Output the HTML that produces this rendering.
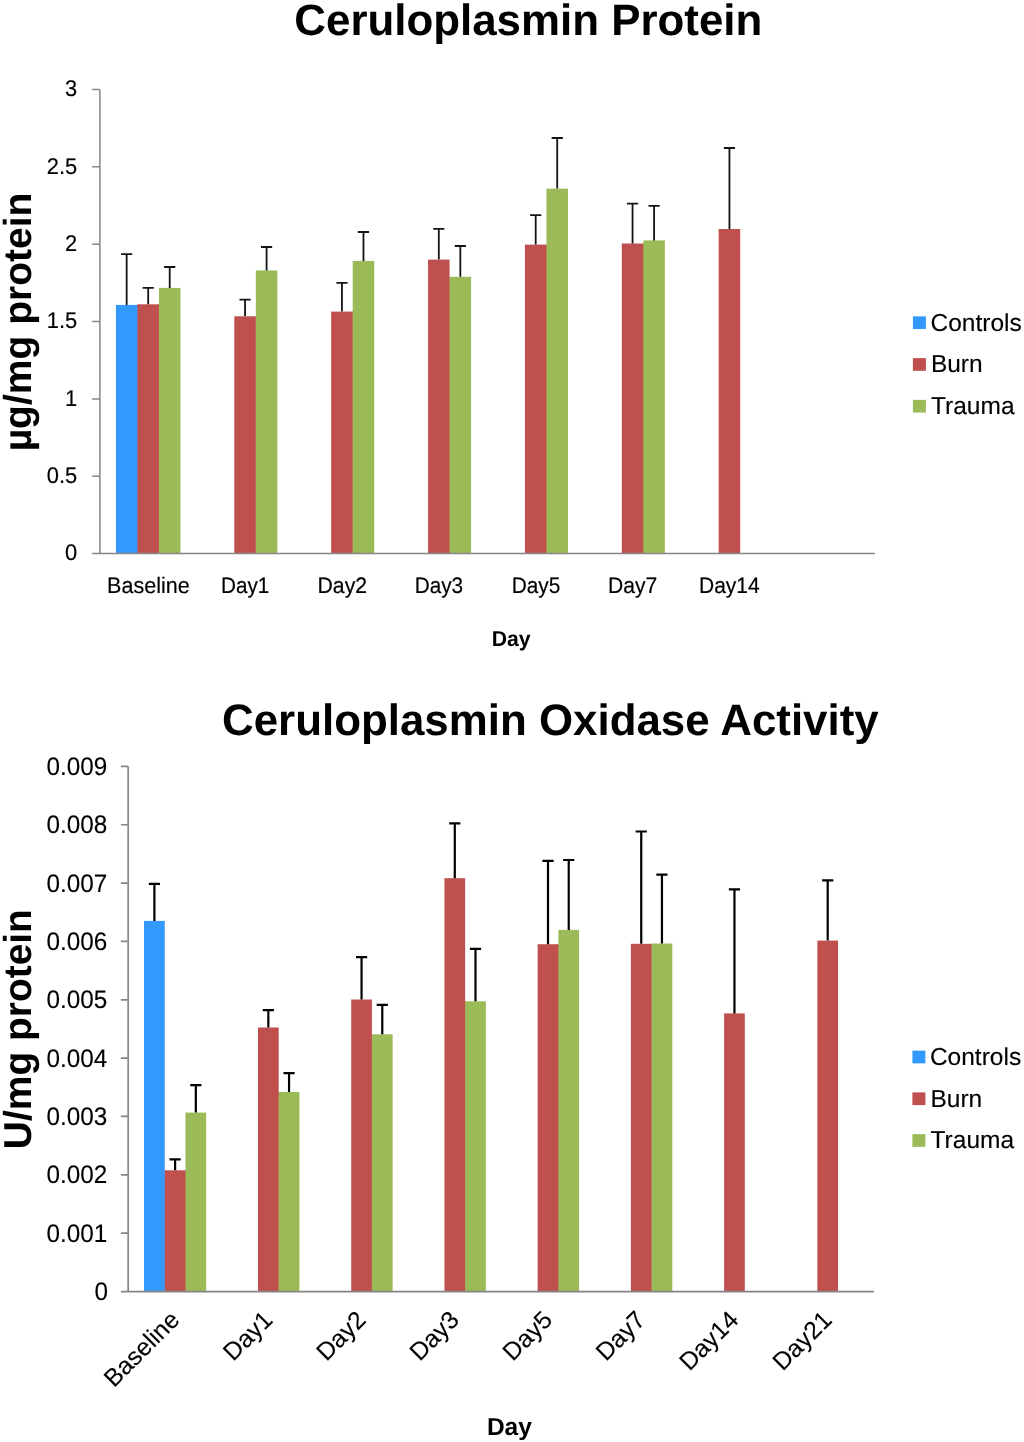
<!DOCTYPE html><html><head><meta charset="utf-8"><title>Ceruloplasmin</title><style>html,body{margin:0;padding:0;background:#fff;width:1024px;height:1442px;overflow:hidden}svg{display:block;will-change:transform}text{font-family:"Liberation Sans",sans-serif;fill:#000;text-rendering:geometricPrecision}</style></head><body>
<svg width="1024" height="1442" viewBox="0 0 1024 1442">
<rect width="1024" height="1442" fill="#fff"/>
<rect x="115.9" y="304.9" width="21.53" height="248.7" fill="#3399ff"/>
<rect x="136.92" y="304.9" width="1" height="248.7" fill="#3399ff"/>
<rect x="137.42" y="304.3" width="21.53" height="249.3" fill="#c0504d"/>
<rect x="158.45" y="304.3" width="1" height="249.3" fill="#c0504d"/>
<rect x="158.95" y="287.9" width="21.53" height="265.7" fill="#9bbb59"/>
<rect x="234.3" y="316.3" width="21.53" height="237.3" fill="#c0504d"/>
<rect x="255.33" y="316.3" width="1" height="237.3" fill="#c0504d"/>
<rect x="255.83" y="270.4" width="21.53" height="283.2" fill="#9bbb59"/>
<rect x="331.17" y="311.6" width="21.53" height="242" fill="#c0504d"/>
<rect x="352.2" y="311.6" width="1" height="242" fill="#c0504d"/>
<rect x="352.7" y="260.9" width="21.53" height="292.7" fill="#9bbb59"/>
<rect x="428.05" y="259.6" width="21.53" height="294" fill="#c0504d"/>
<rect x="449.08" y="276.8" width="1" height="276.8" fill="#c0504d"/>
<rect x="449.58" y="276.8" width="21.53" height="276.8" fill="#9bbb59"/>
<rect x="524.92" y="244.6" width="21.53" height="309" fill="#c0504d"/>
<rect x="545.95" y="244.6" width="1" height="309" fill="#c0504d"/>
<rect x="546.45" y="188.6" width="21.53" height="365" fill="#9bbb59"/>
<rect x="621.8" y="243.5" width="21.53" height="310.1" fill="#c0504d"/>
<rect x="642.83" y="243.5" width="1" height="310.1" fill="#c0504d"/>
<rect x="643.33" y="240.4" width="21.53" height="313.2" fill="#9bbb59"/>
<rect x="718.67" y="229" width="21.53" height="324.6" fill="#c0504d"/>
<path d="M126.66 304.9V254.2M121.06 254.2H132.26M148.19 304.3V287.9M142.59 287.9H153.79M169.72 287.9V267M164.12 267H175.32M245.06 316.3V299.7M239.46 299.7H250.66M266.59 270.4V247M260.99 247H272.19M341.94 311.6V282.9M336.34 282.9H347.54M363.47 260.9V232M357.87 232H369.07M438.81 259.6V228.8M433.21 228.8H444.41M460.34 276.8V246M454.74 246H465.94M535.69 244.6V215.1M530.09 215.1H541.29M557.22 188.6V138M551.62 138H562.82M632.56 243.5V203.6M626.96 203.6H638.16M654.09 240.4V205.8M648.49 205.8H659.69M729.44 229V148M723.84 148H735.04" stroke="#141414" stroke-width="1.8" fill="none"/>
<path d="M99.9 89.5V553.6M92.1 553.6H874.9M92.1 476.25H99.9M92.1 398.9H99.9M92.1 321.55H99.9M92.1 244.2H99.9M92.1 166.85H99.9M92.1 89.5H99.9" stroke="#868686" stroke-width="1.5" fill="none"/>
<rect x="144.04" y="920.9" width="20.72" height="370.6" fill="#3399ff"/>
<rect x="164.25" y="1170.3" width="1" height="121.2" fill="#3399ff"/>
<rect x="164.75" y="1170.3" width="20.72" height="121.2" fill="#c0504d"/>
<rect x="184.97" y="1170.3" width="1" height="121.2" fill="#c0504d"/>
<rect x="185.47" y="1112.6" width="20.72" height="178.9" fill="#9bbb59"/>
<rect x="257.98" y="1027.5" width="20.72" height="264" fill="#c0504d"/>
<rect x="278.2" y="1092" width="1" height="199.5" fill="#c0504d"/>
<rect x="278.7" y="1092" width="20.72" height="199.5" fill="#9bbb59"/>
<rect x="351.2" y="999.5" width="20.72" height="292" fill="#c0504d"/>
<rect x="371.42" y="1034.3" width="1" height="257.2" fill="#c0504d"/>
<rect x="371.92" y="1034.3" width="20.72" height="257.2" fill="#9bbb59"/>
<rect x="444.43" y="878.2" width="20.72" height="413.3" fill="#c0504d"/>
<rect x="464.65" y="1001.3" width="1" height="290.2" fill="#c0504d"/>
<rect x="465.15" y="1001.3" width="20.72" height="290.2" fill="#9bbb59"/>
<rect x="537.65" y="944.2" width="20.72" height="347.3" fill="#c0504d"/>
<rect x="557.87" y="944.2" width="1" height="347.3" fill="#c0504d"/>
<rect x="558.37" y="929.9" width="20.72" height="361.6" fill="#9bbb59"/>
<rect x="630.88" y="943.8" width="20.72" height="347.7" fill="#c0504d"/>
<rect x="651.1" y="943.8" width="1" height="347.7" fill="#c0504d"/>
<rect x="651.6" y="943.5" width="20.72" height="348" fill="#9bbb59"/>
<rect x="724.1" y="1013.4" width="20.72" height="278.1" fill="#c0504d"/>
<rect x="817.33" y="940.6" width="20.72" height="350.9" fill="#c0504d"/>
<path d="M154.4 920.9V883.9M148.8 883.9H160M175.11 1170.3V1159.3M169.51 1159.3H180.71M195.83 1112.6V1085.2M190.23 1085.2H201.43M268.34 1027.5V1010.2M262.74 1010.2H273.94M289.05 1092V1073.1M283.45 1073.1H294.65M361.56 999.5V957.1M355.96 957.1H367.16M382.28 1034.3V1004.8M376.68 1004.8H387.88M454.79 878.2V823.4M449.19 823.4H460.39M475.5 1001.3V948.9M469.9 948.9H481.1M548.01 944.2V860.8M542.41 860.8H553.61M568.73 929.9V860M563.13 860H574.33M641.24 943.8V831.5M635.64 831.5H646.84M661.95 943.5V874.7M656.35 874.7H667.55M734.46 1013.4V889.4M728.86 889.4H740.06M827.69 940.6V880.4M822.09 880.4H833.29" stroke="#000" stroke-width="2.2" fill="none"/>
<path d="M128.2 766.4V1291.7M120.9 1291.7H873.9M120.9 1233.16H128.2M120.9 1174.81H128.2M120.9 1116.47H128.2M120.9 1058.12H128.2M120.9 999.78H128.2M120.9 941.43H128.2M120.9 883.09H128.2M120.9 824.74H128.2M120.9 766.4H128.2" stroke="#868686" stroke-width="1.7" fill="none"/>
<rect x="912.9" y="316.35" width="13" height="12.7" fill="#3399ff"/>
<rect x="912.4" y="1050.65" width="13" height="12.7" fill="#3399ff"/>
<rect x="912.9" y="358.1" width="13" height="12.7" fill="#c0504d"/>
<rect x="912.4" y="1092.4" width="13" height="12.7" fill="#c0504d"/>
<rect x="912.9" y="399.85" width="13" height="12.7" fill="#9bbb59"/>
<rect x="912.4" y="1134.15" width="13" height="12.7" fill="#9bbb59"/>
<text transform="translate(528.3 35.3)" font-size="43.86" font-weight="bold" text-anchor="middle">Ceruloplasmin Protein</text>
<text transform="translate(550.35 734.7)" font-size="43.88" font-weight="bold" text-anchor="middle">Ceruloplasmin Oxidase Activity</text>
<text transform="translate(30.9 321.95) rotate(-90)" font-size="39.04" font-weight="bold" text-anchor="middle">µg/mg protein</text>
<text transform="translate(30.85 1029.15) rotate(-90)" font-size="38.93" font-weight="bold" text-anchor="middle">U/mg protein</text>
<text transform="translate(77.2 560.4) scale(0.966 1)" font-size="22.65" stroke="#000" stroke-width="0.18" text-anchor="end">0</text>
<text transform="translate(77.2 483.05) scale(0.966 1)" font-size="22.65" stroke="#000" stroke-width="0.18" text-anchor="end">0.5</text>
<text transform="translate(77.2 405.7) scale(0.966 1)" font-size="22.65" stroke="#000" stroke-width="0.18" text-anchor="end">1</text>
<text transform="translate(77.2 328.35) scale(0.966 1)" font-size="22.65" stroke="#000" stroke-width="0.18" text-anchor="end">1.5</text>
<text transform="translate(77.2 251) scale(0.966 1)" font-size="22.65" stroke="#000" stroke-width="0.18" text-anchor="end">2</text>
<text transform="translate(77.2 173.65) scale(0.966 1)" font-size="22.65" stroke="#000" stroke-width="0.18" text-anchor="end">2.5</text>
<text transform="translate(77.2 96.3) scale(0.966 1)" font-size="22.65" stroke="#000" stroke-width="0.18" text-anchor="end">3</text>
<text transform="translate(148.4 592.65) scale(1 1.03)" font-size="21.8" stroke="#000" stroke-width="0.18" text-anchor="middle" textLength="82.57" lengthAdjust="spacingAndGlyphs">Baseline</text>
<text transform="translate(245.1 592.65) scale(1 1.03)" font-size="21.8" stroke="#000" stroke-width="0.18" text-anchor="middle" textLength="48.22" lengthAdjust="spacingAndGlyphs">Day1</text>
<text transform="translate(342.3 592.65) scale(1 1.03)" font-size="21.8" stroke="#000" stroke-width="0.18" text-anchor="middle" textLength="49.57" lengthAdjust="spacingAndGlyphs">Day2</text>
<text transform="translate(438.9 592.65) scale(1 1.03)" font-size="21.8" stroke="#000" stroke-width="0.18" text-anchor="middle" textLength="48.42" lengthAdjust="spacingAndGlyphs">Day3</text>
<text transform="translate(536 592.65) scale(1 1.03)" font-size="21.8" stroke="#000" stroke-width="0.18" text-anchor="middle" textLength="48.6" lengthAdjust="spacingAndGlyphs">Day5</text>
<text transform="translate(632.7 592.65) scale(1 1.03)" font-size="21.8" stroke="#000" stroke-width="0.18" text-anchor="middle" textLength="49.28" lengthAdjust="spacingAndGlyphs">Day7</text>
<text transform="translate(729.3 592.65) scale(1 1.03)" font-size="21.8" stroke="#000" stroke-width="0.18" text-anchor="middle" textLength="60.65" lengthAdjust="spacingAndGlyphs">Day14</text>
<text transform="translate(511.2 646.05)" font-size="21.51" font-weight="bold" text-anchor="middle" textLength="38.9" lengthAdjust="spacingAndGlyphs">Day</text>
<text transform="translate(930.55 330.55)" font-size="24.5" stroke="#000" stroke-width="0.12">Controls</text>
<text transform="translate(930.9 372.3)" font-size="24.5" stroke="#000" stroke-width="0.12">Burn</text>
<text transform="translate(931 414.05)" font-size="24.5" stroke="#000" stroke-width="0.12">Trauma</text>
<text transform="translate(929.9 1064.85)" font-size="24.5" stroke="#000" stroke-width="0.12">Controls</text>
<text transform="translate(930.45 1106.6)" font-size="24.5" stroke="#000" stroke-width="0.12">Burn</text>
<text transform="translate(930.55 1148.35)" font-size="24.5" stroke="#000" stroke-width="0.12">Trauma</text>
<text transform="translate(107.9 1300.15) scale(1 1.045)" font-size="24.3" stroke="#000" stroke-width="0.12" text-anchor="end">0</text>
<text transform="translate(107.3 1241.81) scale(1 1.045)" font-size="24.3" stroke="#000" stroke-width="0.12" text-anchor="end">0.001</text>
<text transform="translate(107.3 1183.46) scale(1 1.045)" font-size="24.3" stroke="#000" stroke-width="0.12" text-anchor="end">0.002</text>
<text transform="translate(107.3 1125.12) scale(1 1.045)" font-size="24.3" stroke="#000" stroke-width="0.12" text-anchor="end">0.003</text>
<text transform="translate(107.3 1066.77) scale(1 1.045)" font-size="24.3" stroke="#000" stroke-width="0.12" text-anchor="end">0.004</text>
<text transform="translate(107.3 1008.43) scale(1 1.045)" font-size="24.3" stroke="#000" stroke-width="0.12" text-anchor="end">0.005</text>
<text transform="translate(107.3 950.08) scale(1 1.045)" font-size="24.3" stroke="#000" stroke-width="0.12" text-anchor="end">0.006</text>
<text transform="translate(107.3 891.74) scale(1 1.045)" font-size="24.3" stroke="#000" stroke-width="0.12" text-anchor="end">0.007</text>
<text transform="translate(107.3 833.39) scale(1 1.045)" font-size="24.3" stroke="#000" stroke-width="0.12" text-anchor="end">0.008</text>
<text transform="translate(107.3 775.05) scale(1 1.045)" font-size="24.3" stroke="#000" stroke-width="0.12" text-anchor="end">0.009</text>
<text transform="translate(180.89 1321.3) rotate(-45)" font-size="24.7" stroke="#000" stroke-width="0.12" text-anchor="end">Baseline</text>
<text transform="translate(274.06 1321.3) rotate(-45)" font-size="24.7" stroke="#000" stroke-width="0.12" text-anchor="end">Day1</text>
<text transform="translate(367.24 1321.3) rotate(-45)" font-size="24.7" stroke="#000" stroke-width="0.12" text-anchor="end">Day2</text>
<text transform="translate(460.41 1321.3) rotate(-45)" font-size="24.7" stroke="#000" stroke-width="0.12" text-anchor="end">Day3</text>
<text transform="translate(553.59 1321.3) rotate(-45)" font-size="24.7" stroke="#000" stroke-width="0.12" text-anchor="end">Day5</text>
<text transform="translate(646.76 1321.3) rotate(-45)" font-size="24.7" stroke="#000" stroke-width="0.12" text-anchor="end">Day7</text>
<text transform="translate(739.94 1321.3) rotate(-45)" font-size="24.7" stroke="#000" stroke-width="0.12" text-anchor="end">Day14</text>
<text transform="translate(833.11 1321.3) rotate(-45)" font-size="24.7" stroke="#000" stroke-width="0.12" text-anchor="end">Day21</text>
<text transform="translate(509.38 1434.5)" font-size="24.52" font-weight="bold" text-anchor="middle">Day</text>
</svg></body></html>
